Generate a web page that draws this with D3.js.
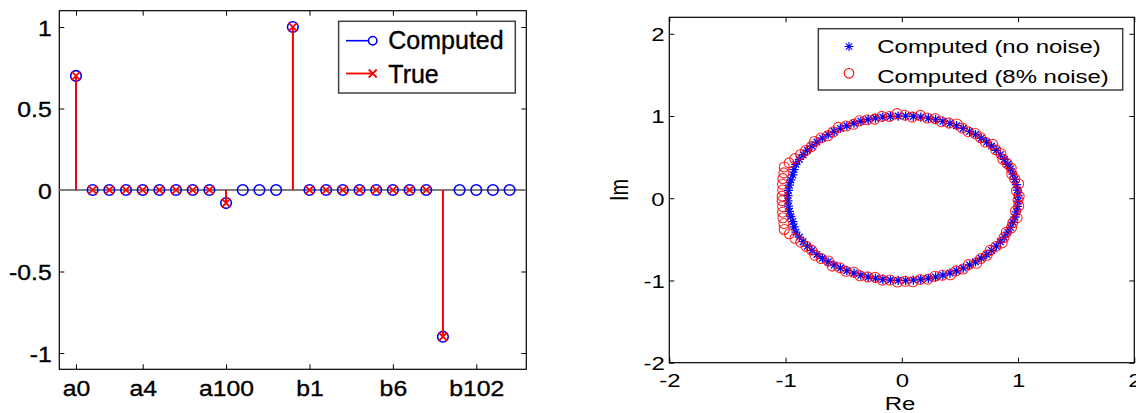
<!DOCTYPE html>
<html><head><meta charset="utf-8">
<script src="https://cdn.jsdelivr.net/npm/d3@7/dist/d3.min.js"></script>
<style>
body{margin:0;background:#fff}
svg{display:block}
text{font-family:"Liberation Sans",Arial,Helvetica,sans-serif;fill:#000}
.bold-ish{stroke:#000;stroke-width:0.35px}
</style>
</head><body>
<svg id="c" width="1136" height="413"></svg>
<script>
// ---------- Left panel data (stem plot) ----------
const stemIndex = [1,2,3,4,5,6,7,8,9,10,11,12,13,14,15,16,17,18,19,20,21,22,23,24,25,26,27];
const computedVals = [0.7,0,0,0,0,0,0,0,0,-0.08,0,0,0,1.0,0,0,0,0,0,0,0,0,-0.9,0,0,0,0];
const trueVals = [0.7,0,0,0,0,0,0,0,0,-0.08,null,null,null,1.0,0,0,0,0,0,0,0,0,-0.9,null,null,null,null];
const xTickIdx = [1,5,10,15,20,25];
const xTickLabels = ["a0","a4","a100","b1","b6","b102"];
const yTicksL = [-1,-0.5,0,0.5,1];
const yTickLabelsL = ["-1","-0.5","0","0.5","1"];
const legendL = ["Computed","True"];

// ---------- Right panel data (eigenvalues, polar: degrees) ----------
const noNoiseAngles = [2,5.7,9.5,13.2,17,20.8,24.4,28.2,32,35.6,39.4,43.1,46.9,50.7,54.3,58.1,61.9,65.5,69.3,73.1,76.8,80.6,84.3,88.1,91.8,95.6,99.4,103.1,106.8,110.6,114.3,118.2,121.9,125.6,129.3,133.1,136.9,140.6,144.3,148.1,151.8,155.6,159.4,163.1,166.9,170.6,174.4,178.1,
 -2,-5.7,-9.5,-13.2,-17,-20.8,-24.4,-28.2,-32,-35.6,-39.4,-43.1,-46.9,-50.7,-54.3,-58.1,-61.9,-65.5,-69.3,-73.1,-76.8,-80.6,-84.3,-88.1,-91.8,-95.6,-99.4,-103.1,-106.8,-110.6,-114.3,-118.2,-121.9,-125.6,-129.3,-133.1,-136.9,-140.6,-144.3,-148.1,-151.8,-155.6,-159.4,-163.1,-166.9,-170.6,-174.4,-178.1];
const noNoiseRadii = [1,1,1,1,1,1,1,1,1,1,1,1,1,1,1,1,1,1,1,1,1,1,1,1,1,1,1,1,1,1,1,1,1,1,1,1,1,1,1,1,1,1,0.99,0.98,0.98,0.98,0.98,0.98,
 1,1,1,1,1,1,1,1,1,1,1,1,1,1,1,1,1,1,1,1,1,1,1,1,1,1,1,1,1,1,1,1,1,1,1,1,1,1,1,1,1,1,0.99,0.98,0.98,0.98,0.98,0.98];
const noisyAngles = [1.5,5.2,9.8,13.6,17.3,21.2,24.9,28.5,32.4,36.1,39.9,43.5,47.3,51.2,54.8,58.6,62.3,66.0,69.8,73.5,77.3,81.0,84.8,88.5,92.3,96.1,99.8,103.6,107.3,111.1,114.8,118.6,122.4,126.1,129.9,133.6,137.4,141.1,144.9,148.6,152.4,156.1,159.4,163.1,166.9,170.6,174.4,178.6,
 -1.2,-5.4,-9.1,-13.5,-17.4,-20.9,-24.7,-28.6,-32.2,-35.9,-39.8,-43.4,-47.2,-50.9,-54.6,-58.4,-62.1,-65.8,-69.6,-73.3,-77.1,-80.9,-84.6,-88.4,-92.1,-95.9,-99.6,-103.4,-107.1,-110.9,-114.6,-118.4,-122.1,-125.9,-129.6,-133.4,-137.1,-140.9,-144.6,-148.4,-152.1,-155.9,-159.4,-163.1,-166.9,-170.6,-174.4,-178.4];
const noisyRadii = [1.01,0.99,1.02,1.0,0.99,1.01,1.0,0.99,1.01,1.0,1.02,0.99,1.0,1.01,0.99,1.0,1.02,1.0,0.99,1.01,1.0,1.02,0.99,1.01,1.03,1.0,1.01,0.99,1.0,1.01,0.99,1.0,1.02,1.0,0.99,1.01,1.02,1.0,1.01,1.02,1.04,1.06,1.08,1.06,1.05,1.04,1.03,1.03,
 1.0,1.01,0.99,1.02,1.0,1.01,0.99,1.0,1.02,1.0,0.99,1.01,1.0,1.02,0.99,1.01,1.0,1.02,1.0,0.99,1.01,1.0,1.02,1.01,1.02,1.0,1.01,0.99,1.0,1.01,0.99,1.01,1.0,1.02,0.99,1.01,1.02,1.0,1.01,1.02,1.04,1.06,1.08,1.06,1.05,1.04,1.03,1.03];
const ticksR = [-2,-1,0,1,2];
const tickLabelsR = ["-2","-1","0","1","2"];
const legendR = ["Computed (no noise)","Computed (8% noise)"];

const svg = d3.select("#c");

// ================= LEFT PANEL =================
const L = {x0:59.3, x1:526.3, y0:10.7, y1:369.3};
const FS1 = 22.5, SX1 = 1.1;
const xL = d3.scaleLinear().domain([0,28]).range([L.x0, L.x1]);
const yL = d3.scaleLinear().domain([-1.1,1.1]).range([L.y1, L.y0]);
const gL = svg.append("g");

function styleAxis(g){ g.select(".domain").remove(); g.selectAll("line").attr("stroke","#000").attr("stroke-width",1); }

const axB = gL.append("g").attr("transform",`translate(0,${L.y1})`)
  .call(d3.axisBottom(xL).tickValues(xTickIdx).tickFormat((d,i)=>xTickLabels[i]).tickSizeInner(-5).tickSizeOuter(0));
styleAxis(axB);
axB.selectAll("text").attr("class","bold-ish").attr("y",0).attr("dy",null).attr("font-size",FS1).attr("font-family",null).attr("fill","#000")
  .attr("transform",`translate(0,27) scale(${SX1},1)`);

const axT = gL.append("g").attr("transform",`translate(0,${L.y0})`)
  .call(d3.axisTop(xL).tickValues(xTickIdx).tickFormat("").tickSizeInner(-5).tickSizeOuter(0));
styleAxis(axT);

const axLf = gL.append("g").attr("transform",`translate(${L.x0},0)`)
  .call(d3.axisLeft(yL).tickValues(yTicksL).tickFormat((d,i)=>yTickLabelsL[i]).tickSizeInner(-5).tickSizeOuter(0));
styleAxis(axLf);
axLf.selectAll("text").attr("class","bold-ish").attr("x",0).attr("dy","0.36em").attr("font-size",FS1).attr("font-family",null).attr("fill","#000")
  .attr("transform",`translate(-7.6,0) scale(${SX1},1)`);

const axRt = gL.append("g").attr("transform",`translate(${L.x1},0)`)
  .call(d3.axisRight(yL).tickValues(yTicksL).tickFormat("").tickSizeInner(-5).tickSizeOuter(0));
styleAxis(axRt);

gL.append("rect").attr("x",L.x0).attr("y",L.y0).attr("width",L.x1-L.x0).attr("height",L.y1-L.y0)
  .attr("fill","none").attr("stroke","#000").attr("stroke-width",1.2);

// baseline
gL.append("line").attr("x1",L.x0).attr("x2",L.x1).attr("y1",yL(0)).attr("y2",yL(0))
  .attr("stroke","#7f7f7f").attr("stroke-width",2);

const compData = stemIndex.map((k,i)=>({k, v:computedVals[i]}));
const trueData = stemIndex.map((k,i)=>({k, v:trueVals[i]})).filter(d=>d.v!==null);

// computed stems + circles
gL.append("g").selectAll("line").data(compData).join("line")
  .attr("x1",d=>xL(d.k)).attr("x2",d=>xL(d.k)).attr("y1",yL(0)).attr("y2",d=>yL(d.v))
  .attr("stroke","#0000ff").attr("stroke-width",1.5);
gL.append("g").selectAll("circle").data(compData).join("circle")
  .attr("cx",d=>xL(d.k)).attr("cy",d=>yL(d.v)).attr("r",5.3)
  .attr("fill","none").attr("stroke","#0000ff").attr("stroke-width",1.6);
// true stems + x
gL.append("g").selectAll("line").data(trueData).join("line")
  .attr("x1",d=>xL(d.k)).attr("x2",d=>xL(d.k)).attr("y1",yL(0)).attr("y2",d=>yL(d.v))
  .attr("stroke","#ff0000").attr("stroke-width",1.8);
const xm = 4.2;
gL.append("g").selectAll("path").data(trueData).join("path")
  .attr("d",d=>{const x=xL(d.k), y=yL(d.v); return `M${x-xm},${y-xm}L${x+xm},${y+xm}M${x-xm},${y+xm}L${x+xm},${y-xm}`;})
  .attr("stroke","#ff0000").attr("stroke-width",1.8).attr("fill","none");

// legend left
const lgL = gL.append("g");
lgL.append("rect").attr("x",338.6).attr("y",21.3).attr("width",176.7).attr("height",71.7)
  .attr("fill","#fff").attr("stroke","#404040").attr("stroke-width",1.5);
lgL.append("line").attr("x1",346).attr("x2",368.5).attr("y1",40.7).attr("y2",40.7).attr("stroke","#0000ff").attr("stroke-width",1.6);
lgL.append("circle").attr("cx",372.7).attr("cy",40.7).attr("r",4.2).attr("fill","none").attr("stroke","#0000ff").attr("stroke-width",1.6);
lgL.append("line").attr("x1",346).attr("x2",372.7).attr("y1",73.5).attr("y2",73.5).attr("stroke","#ff0000").attr("stroke-width",1.8);
lgL.append("path").attr("d",`M${372.7-4},${73.5-4}L${372.7+4},${73.5+4}M${372.7-4},${73.5+4}L${372.7+4},${73.5-4}`)
  .attr("stroke","#ff0000").attr("stroke-width",1.8);
lgL.selectAll("text.lg").data(legendL).join("text").attr("class","lg bold-ish")
  .attr("x",388.3).attr("y",(d,i)=>i===0?49.3:83).attr("font-size",25).text(d=>d);

// ================= RIGHT PANEL =================
const R = {x0:669.3, x1:1134.3, y0:17.3, y1:362.7};
const FS2 = 19, SX2 = 1.26;
const xR = d3.scaleLinear().domain([-2,2]).range([R.x0, R.x1]);
const yR = d3.scaleLinear().domain([-2,2.2]).range([R.y1, R.y0]);
const gR = svg.append("g");

const bB = gR.append("g").attr("transform",`translate(0,${R.y1})`)
  .call(d3.axisBottom(xR).tickValues(ticksR).tickFormat((d,i)=>tickLabelsR[i]).tickSizeInner(-5).tickSizeOuter(0));
styleAxis(bB);
bB.selectAll("text").attr("y",0).attr("dy",null).attr("font-size",FS2).attr("font-family",null).attr("fill","#000")
  .attr("transform",`translate(0,24) scale(${SX2},1)`);
const bT = gR.append("g").attr("transform",`translate(0,${R.y0})`)
  .call(d3.axisTop(xR).tickValues(ticksR).tickFormat("").tickSizeInner(-5).tickSizeOuter(0));
styleAxis(bT);
const bL = gR.append("g").attr("transform",`translate(${R.x0},0)`)
  .call(d3.axisLeft(yR).tickValues(ticksR).tickFormat((d,i)=>tickLabelsR[i]).tickSizeInner(-5).tickSizeOuter(0));
styleAxis(bL);
bL.selectAll("text").attr("x",0).attr("dy","0.36em").attr("font-size",FS2).attr("font-family",null).attr("fill","#000")
  .attr("transform",`translate(-4.6,0) scale(${SX2},1)`);
const bR = gR.append("g").attr("transform",`translate(${R.x1},0)`)
  .call(d3.axisRight(yR).tickValues(ticksR).tickFormat("").tickSizeInner(-5).tickSizeOuter(0));
styleAxis(bR);

gR.append("rect").attr("x",R.x0).attr("y",R.y0).attr("width",R.x1-R.x0).attr("height",R.y1-R.y0)
  .attr("fill","none").attr("stroke","#000").attr("stroke-width",1.2);

gR.append("text").attr("transform",`translate(900,410) scale(${SX2},1)`).attr("text-anchor","middle")
  .attr("font-size",FS2).text("Re");
gR.append("text").attr("transform",`translate(628,190) rotate(-90) scale(1,${SX2})`).attr("text-anchor","middle")
  .attr("font-size",FS2+1).text("Im");

const toXY = (a,r)=>({re:r*Math.cos(a*Math.PI/180), im:r*Math.sin(a*Math.PI/180)});
const pts0 = noNoiseAngles.map((a,i)=>toXY(a,noNoiseRadii[i]));
const pts1 = noisyAngles.map((a,i)=>toXY(a,noisyRadii[i]));

function asterisk(x,y,s){
  const d = s*0.72;
  return `M${x-s},${y}L${x+s},${y}M${x},${y-s}L${x},${y+s}M${x-d},${y-d}L${x+d},${y+d}M${x-d},${y+d}L${x+d},${y-d}`;
}
gR.append("g").selectAll("path").data(pts0).join("path")
  .attr("d",d=>asterisk(xR(d.re),yR(d.im),4.6))
  .attr("stroke","#0000ff").attr("stroke-width",1.3).attr("fill","none");
gR.append("g").selectAll("circle").data(pts1).join("circle")
  .attr("cx",d=>xR(d.re)).attr("cy",d=>yR(d.im)).attr("r",5)
  .attr("fill","none").attr("stroke","#ff0000").attr("stroke-width",1.1).attr("opacity",0.85);

// legend right
const lgR = gR.append("g");
lgR.append("rect").attr("x",818.3).attr("y",28.7).attr("width",304.4).attr("height",61.3)
  .attr("fill","#fff").attr("stroke","#404040").attr("stroke-width",1.5);
lgR.append("path").attr("d",asterisk(849,46.5,4.4)).attr("stroke","#0000ff").attr("stroke-width",1.1).attr("fill","none");
lgR.append("circle").attr("cx",849).attr("cy",73.3).attr("r",4.8).attr("fill","none").attr("stroke","#ff0000").attr("stroke-width",1.1);
lgR.selectAll("text.lg").data(legendR).join("text").attr("class","lg")
  .attr("transform",(d,i)=>`translate(877.3,${i===0?53.3:83.3}) scale(${SX2},1)`)
  .attr("font-size",FS2).text(d=>d);
</script>
</body></html>
